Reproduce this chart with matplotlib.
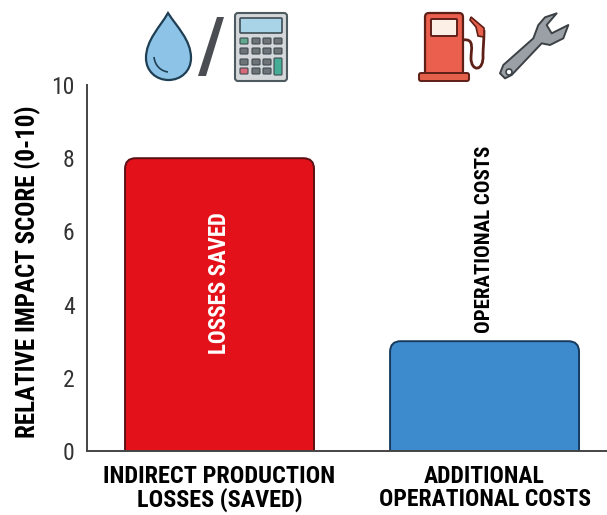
import matplotlib
matplotlib.use('Agg')
import matplotlib.pyplot as plt
from matplotlib.patches import FancyBboxPatch, Polygon, Circle, PathPatch
from matplotlib.path import Path

plt.rcParams['font.family'] = ['Roboto Condensed', 'DejaVu Sans']

categories = ['INDIRECT PRODUCTION\nLOSSES (SAVED)', 'ADDITIONAL\nOPERATIONAL COSTS']
scores = [8, 3]
bar_colors = ['#E2111A', '#3D8BCD']
edge_colors = ['#5A1015', '#173A5E']
bar_texts = ['LOSSES SAVED', 'OPERATIONAL COSTS']
y_ticks = [0, 2, 4, 6, 8, 10]
y_label = 'RELATIVE IMPACT SCORE (0-10)'

W, H = 607, 515
DARK = '#444444'


def rbox(ax, x, y, w, h, r, **kw):
    p = FancyBboxPatch((x, y), w, h, boxstyle=f'round,pad=0,rounding_size={r}', **kw)
    ax.add_patch(p)
    return p


def draw_drop(ax):
    verts = [(168, 13), (160, 27), (146, 40), (146, 58),
             (146, 71), (156, 80), (168.5, 80),
             (181, 80), (191, 71), (191, 58),
             (191, 40), (177, 27), (168, 13), (168, 13)]
    codes = [Path.MOVETO] + [Path.CURVE4] * 12 + [Path.CLOSEPOLY]
    ax.add_patch(PathPatch(Path(verts, codes), fc='#8CC3E6', ec='#1F3F55', lw=1.6))
    shine = Path([(154, 57), (155, 66), (161, 71), (168, 72)], [Path.MOVETO] + [Path.CURVE4] * 3)
    ax.add_patch(PathPatch(shine, fc='none', ec='#1F3F55', lw=1.2))


def draw_calculator(ax):
    rbox(ax, 235, 13, 52, 68, 3, fc='#D3D7DA', ec='#4D5A60', lw=1.5)
    rbox(ax, 240, 18, 42, 15, 1, fc='#A9D3E6', ec='#3F4D55', lw=1.2)
    xs = [244, 256, 267, 278]
    ys = [41, 51, 62, 71]
    for j, y in enumerate(ys):
        for i, x in enumerate(xs):
            if i == 3 and j >= 2:
                continue
            color = '#6E7478'
            if i == 0 and j == 0:
                color = '#5FA98E'
            if i == 0 and j == 3:
                color = '#D8687A'
            rbox(ax, x - 4, y - 3, 8, 6, 1, fc=color, ec='#3F4A50', lw=0.8)
    rbox(ax, 274, 58, 8, 17, 1, fc='#45AD96', ec='#3F4A50', lw=0.8)


def draw_pump(ax):
    edge = '#5E1F17'
    hose = Path([(463, 40), (475, 38), (471, 50), (471, 58), (471, 72), (484, 72), (483, 55), (483, 50), (484, 40), (484, 30)],
                [Path.MOVETO] + [Path.CURVE4] * 9)
    ax.add_patch(PathPatch(hose, fc='none', ec=edge, lw=2.0))
    ax.add_patch(Polygon([(471, 17), (484, 28), (484, 37), (478, 36), (476, 27), (470, 20)],
                         fc='#E8604C', ec=edge, lw=1.2))
    rbox(ax, 425, 13, 38, 62, 4, fc='#EA5F4D', ec=edge, lw=1.6)
    rbox(ax, 431, 19, 26, 17, 1, fc='#FBEFE6', ec=edge, lw=1.4)
    rbox(ax, 419, 73, 50, 8, 2, fc='#E3604B', ec=edge, lw=1.4)


def draw_wrench(ax):
    edge = '#3C4145'
    outline = [(310, 195), (400, 115), (415, 75), (435, 52), (470, 40), (440, 75), (455, 100),
               (505, 75), (490, 115), (450, 135), (425, 130), (335, 225), (315, 235), (300, 220)]
    pts = [(400 + x / 3, y / 3) for x, y in outline]
    ax.add_patch(Polygon(pts, fc='#9AA0A5', ec=edge, lw=1.4, joinstyle='round'))
    ax.add_patch(Circle((509, 72), 3, fc='white', ec=edge, lw=1.2))


fig = plt.figure(figsize=(W / 100, H / 100), dpi=100)
ax = fig.add_axes([87 / W, 1 - 451 / H, (W - 87) / W, (451 - 85) / H])

ax.set_xlim(-0.5, 1.462)
ax.set_ylim(0, 10)
positions = list(range(len(scores)))
bar_w = 0.713
for pos, val, col, ec in zip(positions, scores, bar_colors, edge_colors):
    # box starts under the axis so only the top corners show as rounded
    p = FancyBboxPatch((pos - bar_w / 2, -1), bar_w, val + 1,
                       boxstyle='round,pad=0,rounding_size=0.04', mutation_aspect=7.2,
                       fc=col, ec=ec, lw=1.4)
    ax.add_patch(p)

ax.text(0, 4.6, bar_texts[0], color='white', rotation=90, ha='center', va='center',
        fontsize=16.5, fontweight='bold')
ax.text(1, 5.78, bar_texts[1], color='black', rotation=90, ha='center', va='center',
        fontsize=15, fontweight='bold')

ax.set_yticks(y_ticks)
ax.tick_params(axis='y', length=0, labelsize=17, pad=9, labelcolor='#333333')
ax.set_xticks(positions)
ax.set_xticklabels(categories, fontweight='bold', linespacing=0.98)
for lbl, size in zip(ax.get_xticklabels(), [17.5, 17]):
    lbl.set_fontsize(size)
ax.tick_params(axis='x', length=0, pad=10)
for s in ['top', 'right']:
    ax.spines[s].set_visible(False)
for s in ['left', 'bottom']:
    ax.spines[s].set_color(DARK)
    ax.spines[s].set_linewidth(1.4)

fig.text(28 / W, 1 - 272 / H, y_label, rotation=90, ha='center', va='center',
         fontsize=18, fontweight='bold')

# overlay in pixel coordinates for the icons
ov = fig.add_axes([0, 0, 1, 1])
ov.set_xlim(0, W)
ov.set_ylim(H, 0)
ov.axis('off')
ov.patch.set_alpha(0)
draw_drop(ov)
ov.add_patch(Polygon([(217, 17), (224, 17), (206, 76), (198, 76)], fc='#4A4E52', ec='none'))
draw_calculator(ov)
draw_pump(ov)
draw_wrench(ov)

fig.savefig('out.png', dpi=100)
